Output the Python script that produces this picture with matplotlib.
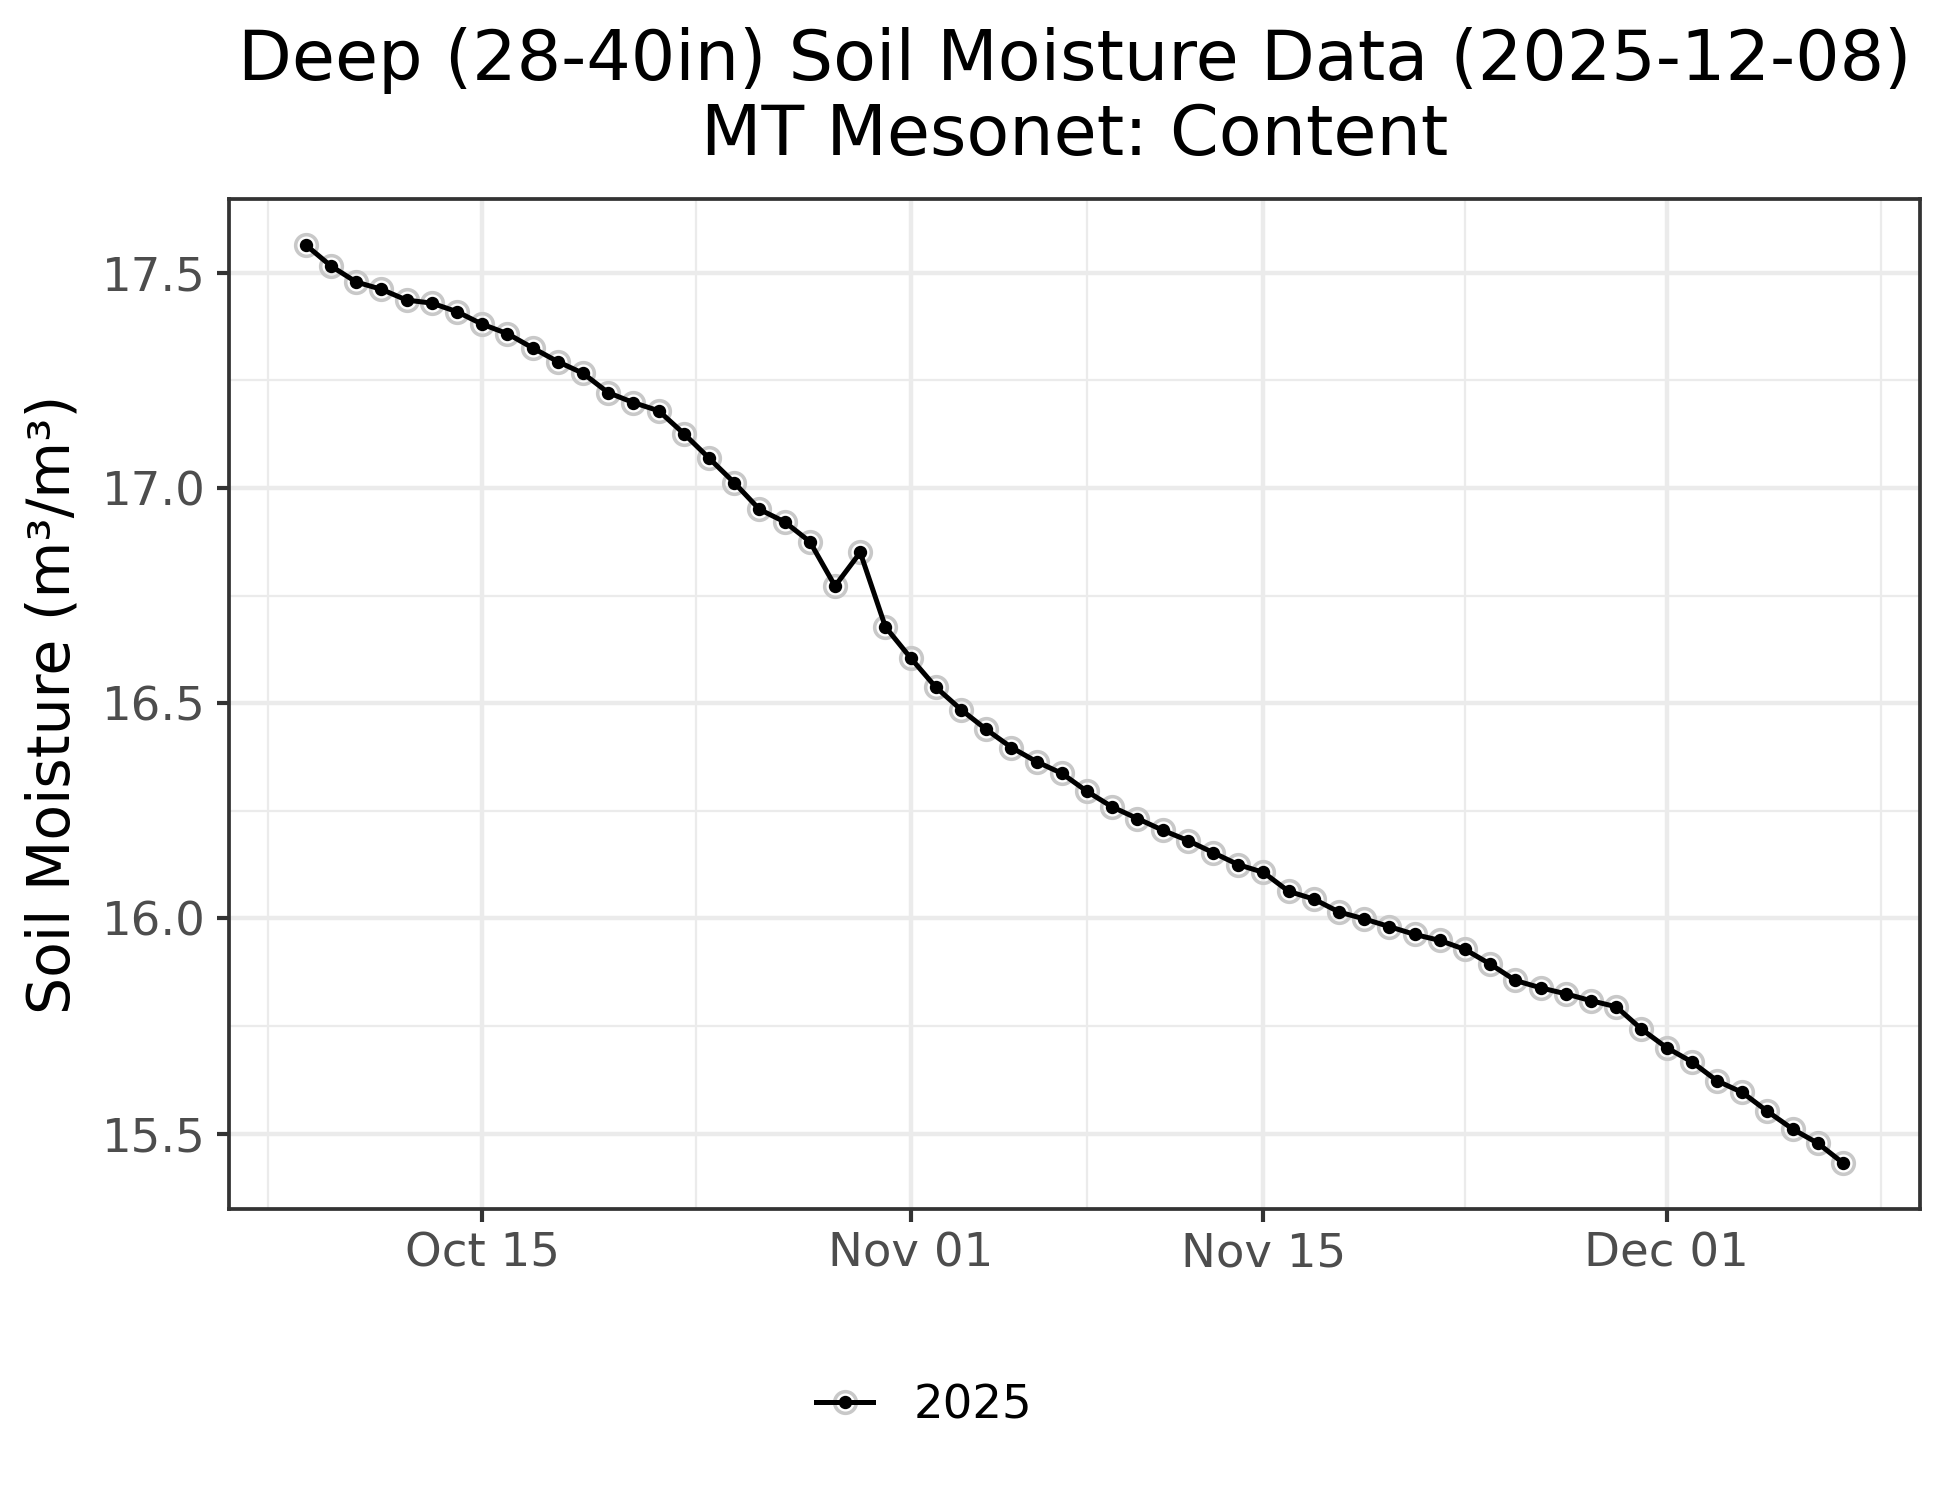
import datetime as dt

import numpy as np
import matplotlib
matplotlib.use("Agg")
import matplotlib.pyplot as plt
import matplotlib.dates as mdates
from matplotlib.legend_handler import HandlerTuple
from matplotlib.lines import Line2D

# daily deep soil moisture, Oct 08 - Dec 08 2025
start_day = dt.date(2025, 10, 8)
moisture = [
    17.564, 17.515, 17.478, 17.461, 17.436, 17.429, 17.409, 17.380, 17.358, 17.325,
    17.293, 17.266, 17.221, 17.198, 17.179, 17.126, 17.069, 17.012, 16.950, 16.921,
    16.875, 16.772, 16.850, 16.677, 16.605, 16.537, 16.485, 16.439, 16.397, 16.364,
    16.337, 16.295, 16.259, 16.232, 16.205, 16.181, 16.153, 16.125, 16.107, 16.063,
    16.045, 16.015, 15.999, 15.981, 15.963, 15.949, 15.928, 15.894, 15.856, 15.839,
    15.825, 15.809, 15.795, 15.743, 15.700, 15.667, 15.623, 15.596, 15.552, 15.511,
    15.478, 15.432,
]
dates = [start_day + dt.timedelta(days=i) for i in range(len(moisture))]
year_label = "2025"

x_breaks = [dt.date(2025, 10, 15), dt.date(2025, 11, 1), dt.date(2025, 11, 15), dt.date(2025, 12, 1)]
y_breaks = [15.5, 16.0, 16.5, 17.0, 17.5]

title = "Deep (28-40in) Soil Moisture Data (2025-12-08)\nMT Mesonet: Content"
ylabel = "Soil Moisture (m\u00b3/m\u00b3)"

# marker styles (grey ring behind a small black dot)
ring_style = dict(linestyle="none", marker="o", markersize=5.2, markerfacecolor="none",
                  markeredgecolor="#C8C8C8", markeredgewidth=0.85)
dot_style = dict(color="black", linewidth=1.2, marker="o", markersize=2.8, markeredgewidth=0.4)

fig = plt.figure(figsize=(6.5, 5), dpi=300)
ax = fig.add_axes([0.1174, 0.194, 0.9846 - 0.1174, 0.8673 - 0.194])

xnum = mdates.date2num(dates)
ax.plot(xnum, moisture, zorder=3, **ring_style)
ax.plot(xnum, moisture, zorder=4, **dot_style)

# major / minor breaks
bnum = mdates.date2num(x_breaks)
step = bnum[1] - bnum[0]
ext = np.concatenate([[bnum[0] - step], bnum, [bnum[-1] + step]])
minor_x = (ext[:-1] + ext[1:]) / 2
ax.set_xticks(bnum)
ax.set_xticks(minor_x, minor=True)
ax.xaxis.set_major_formatter(mdates.DateFormatter("%b %d"))
ax.set_yticks(y_breaks)
ax.set_yticks(np.arange(15.25, 18.0, 0.5), minor=True)
ax.set_yticklabels(["%.1f" % v for v in y_breaks])

# limits with ggplot style 5% expansion (after ticks so they stick)
xr = xnum.max() - xnum.min()
ax.set_xlim(xnum.min() - 0.05 * xr, xnum.max() + 0.05 * xr)
yr = max(moisture) - min(moisture)
ax.set_ylim(min(moisture) - 0.05 * yr, max(moisture) + 0.05 * yr)

ax.grid(which="major", color="#EBEBEB", linewidth=1.07, zorder=0)
ax.grid(which="minor", color="#EBEBEB", linewidth=0.53, zorder=0)
ax.set_axisbelow(True)

ax.tick_params(which="major", length=3, width=1.0, color="#333333",
               labelsize=11.2, labelcolor="#4D4D4D", pad=2.5)
ax.tick_params(which="minor", length=0)
for s in ax.spines.values():
    s.set_color("#333333")
    s.set_linewidth(0.9)

ax.set_ylabel(ylabel, fontsize=14, labelpad=5)
ax.set_title(title, fontsize=16.8, pad=10.5, linespacing=1.15)

# legend below the panel
ring = Line2D([], [], **ring_style)
dot = Line2D([], [], **dot_style)
fig.legend([(ring, dot)], [year_label], handler_map={tuple: HandlerTuple(ndivide=1)},
           loc="center", bbox_to_anchor=(0.474, 0.0627), frameon=False, fontsize=11.2,
           handlelength=1.22, handletextpad=0.86)

fig.savefig("out.png", dpi=300)
